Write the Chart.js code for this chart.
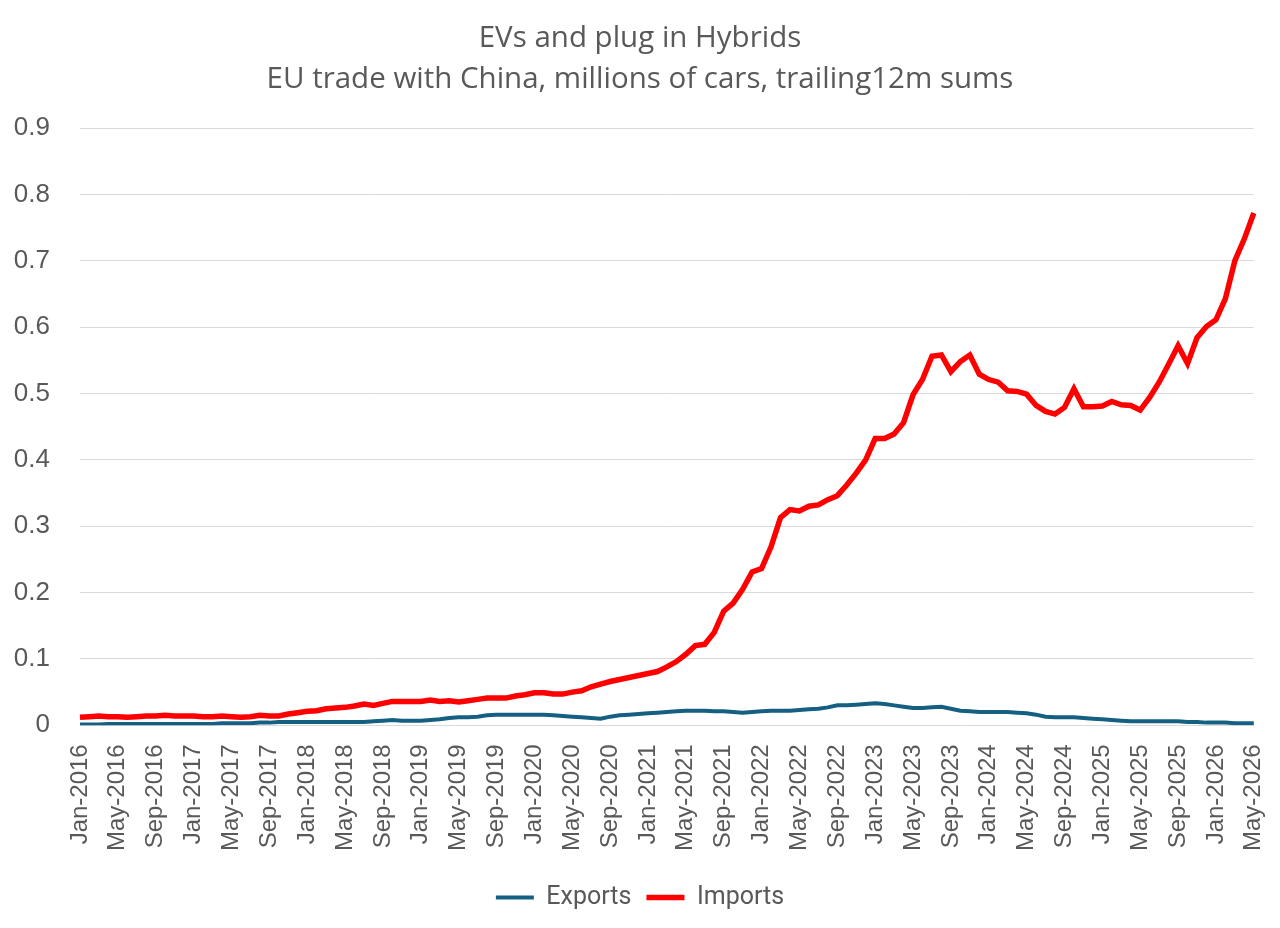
<!DOCTYPE html>
<html>
<head>
<meta charset="utf-8">
<script src="https://cdn.jsdelivr.net/npm/chart.js@4"></script>
<style>
  html, body { margin: 0; padding: 0; background: #fff; }
  #wrap { width: 1280px; height: 928px; }
</style>
</head>
<body>
<div id="wrap"><canvas id="chartTrade"></canvas></div>
<script>
// months Jan-2016 .. May-2026
const monthNames = ['Jan','Feb','Mar','Apr','May','Jun','Jul','Aug','Sep','Oct','Nov','Dec'];
const months = [];
for (let y = 2016; y <= 2026; y++) {
  for (let m = 0; m < 12; m++) {
    if (y === 2026 && m > 4) break;
    months.push(monthNames[m] + '-' + y);
  }
}

// millions of cars, trailing 12m sums
const exportsData = [
  0.001,0.001,0.001,0.002,0.002,0.002,0.002,0.002,0.002,0.002,0.002,0.002,
  0.002,0.002,0.002,0.003,0.003,0.003,0.003,0.004,0.004,0.005,0.005,0.005,
  0.005,0.005,0.005,0.005,0.005,0.005,0.005,0.006,0.007,0.008,0.007,0.007,
  0.007,0.008,0.009,0.011,0.012,0.012,0.013,0.015,0.016,0.016,0.016,0.016,
  0.016,0.016,0.015,0.014,0.013,0.012,0.011,0.010,0.013,0.015,0.016,0.017,
  0.018,0.019,0.020,0.021,0.022,0.022,0.022,0.021,0.021,0.020,0.019,0.020,
  0.021,0.022,0.022,0.022,0.023,0.024,0.025,0.027,0.030,0.030,0.031,0.032,
  0.033,0.032,0.030,0.028,0.026,0.026,0.027,0.028,0.025,0.022,0.021,0.020,
  0.020,0.020,0.020,0.019,0.018,0.016,0.013,0.012,0.012,0.012,0.011,0.010,
  0.009,0.008,0.007,0.006,0.006,0.006,0.006,0.006,0.006,0.005,0.005,0.004,
  0.004,0.004,0.003,0.003,0.003
];
const importsData = [
  0.012,0.013,0.014,0.013,0.013,0.012,0.013,0.014,0.014,0.015,0.014,0.014,
  0.014,0.013,0.013,0.014,0.013,0.012,0.013,0.015,0.014,0.014,0.017,0.019,
  0.021,0.022,0.025,0.026,0.027,0.029,0.032,0.030,0.033,0.036,0.036,0.036,
  0.036,0.038,0.036,0.037,0.035,0.037,0.039,0.041,0.041,0.041,0.044,0.046,
  0.049,0.049,0.047,0.047,0.050,0.052,0.058,0.062,0.066,0.069,0.072,0.075,
  0.078,0.081,0.088,0.096,0.107,0.120,0.122,0.140,0.172,0.184,0.205,0.231,
  0.236,0.269,0.313,0.325,0.323,0.330,0.332,0.340,0.346,0.362,0.380,0.400,
  0.432,0.432,0.439,0.456,0.498,0.521,0.556,0.558,0.533,0.548,0.558,0.529,
  0.521,0.517,0.504,0.503,0.499,0.482,0.473,0.469,0.479,0.507,0.480,0.480,
  0.481,0.488,0.483,0.482,0.475,0.494,0.517,0.544,0.572,0.545,0.584,0.601,
  0.611,0.643,0.700,0.733,0.772
];

const textColor = '#595959';
const gridColor = '#d9d9d9';
const titleFont = '"Open Sans", "Noto Sans", sans-serif';
const axisFont = '"Liberation Sans", Arial, sans-serif';
const legendFont = 'Roboto, sans-serif';

const ctx = document.getElementById('chartTrade');
new Chart(ctx, {
  type: 'line',
  data: {
    labels: months,
    datasets: [{
      label: 'Exports',
      data: exportsData,
      borderColor: '#156082',
      backgroundColor: '#156082',
      borderWidth: 4,
      pointRadius: 0,
      tension: 0
    },{
      label: 'Imports',
      data: importsData,
      borderColor: '#ff0000',
      backgroundColor: '#ff0000',
      borderWidth: 5.5,
      pointRadius: 0,
      tension: 0
    }]
  },
  options: {
    responsive: true,
    maintainAspectRatio: false,
    animation: false,
    layout: { padding: { left: 0, right: 0, top: 18, bottom: 8 } },
    plugins: {
      title: {
        display: true,
        text: ['EVs and plug in Hybrids', 'EU trade with China, millions of cars, trailing12m sums'],
        color: textColor,
        font: { family: titleFont, size: 29.5, weight: 'normal', lineHeight: 1.39 },
        padding: { top: 0, bottom: 28 }
      },
      legend: {
        position: 'bottom',
        labels: {
          color: textColor,
          font: { family: legendFont, size: 25 },
          usePointStyle: true,
          pointStyle: 'line',
          pointStyleWidth: 38,
          padding: 15
        }
      },
      tooltip: { enabled: false }
    },
    scales: {
      x: {
        grid: { display: false, drawTicks: false },
        border: { display: true, color: gridColor, width: 1 },
        ticks: {
          autoSkip: false,
          maxRotation: 90,
          minRotation: 90,
          padding: 19,
          color: textColor,
          font: { family: axisFont, size: 24, lineHeight: 0.3 },
          callback: function(val, i) { return i % 4 === 0 ? months[i] : ''; }
        }
      },
      y: {
        min: 0,
        max: 0.9,
        afterFit: scale => { scale.width = 80; },
        grid: { color: gridColor, drawTicks: false },
        border: { display: false },
        ticks: {
          stepSize: 0.1,
          padding: 30,
          color: textColor,
          font: { family: axisFont, size: 26 },
          callback: v => v === 0 ? '0' : v.toFixed(1)
        }
      }
    }
  }
});
</script>
</body>
</html>
